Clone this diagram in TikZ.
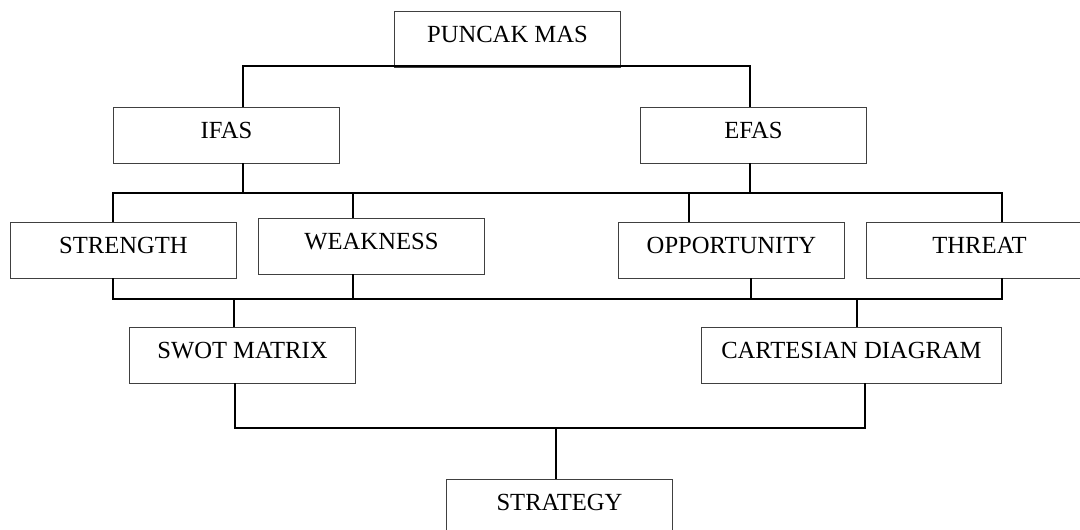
\documentclass[tikz,border=0pt]{standalone}
\usepackage{fontspec}
\setmainfont{Liberation Serif}

\tikzset{
  box/.style={draw=black!75, line width=0.6pt, anchor=north west, inner sep=0pt,
    minimum width=5.65cm, minimum height=1.39cm, text height=11.6pt, text depth=7pt,
    font=\fontsize{17.5}{20}\selectfont},
  wide/.style={minimum width=7.5cm},
  conn/.style={line width=1.2pt},
}

\begin{document}
\begin{tikzpicture}[x=0.025cm,y=-0.025cm]
    \useasboundingbox (0,0) rectangle (1080,530);
    % boxes
    \node[box] (puncak) at (394,11) {PUNCAK MAS};
    \node[box] (ifas) at (113,107) {IFAS};
    \node[box] (efas) at (640,107) {EFAS};
    \node[box] (strength) at (10,222) {STRENGTH};
    \node[box] (weakness) at (258,218) {WEAKNESS};
    \node[box] (opportunity) at (618,222) {OPPORTUNITY};
    \node[box] (threat) at (866,222) {THREAT};
    \node[box] (swot) at (129,327) {SWOT MATRIX};
    \node[box,wide] (cartesian) at (701,327) {CARTESIAN DIAGRAM};
    \node[box] (strategy) at (446,479) {STRATEGY};
    % junctions
    \coordinate (t1) at (243,66);
    \coordinate (t2) at (750,66);
    \coordinate (a1) at (113,193);
    \coordinate (a2) at (243,193);
    \coordinate (a3) at (353,193);
    \coordinate (a4) at (689,193);
    \coordinate (a5) at (750,193);
    \coordinate (a6) at (1002,193);
    \coordinate (b1) at (113,299);
    \coordinate (b2) at (234,299);
    \coordinate (b3) at (353,299);
    \coordinate (b4) at (751,299);
    \coordinate (b5) at (857,299);
    \coordinate (b6) at (1002,299);
    \coordinate (c1) at (235,428);
    \coordinate (c2) at (556,428);
    \coordinate (c3) at (865,428);
    % connectors
    \draw[conn] (t1 |- ifas.north) -- (t1) -- (t2) -- (t2 |- efas.north);
    \draw[conn] (a2 |- ifas.south) -- (a2);
    \draw[conn] (a5 |- efas.south) -- (a5);
    \draw[conn] (a1 |- strength.north) -- (a1) -- (a6) -- (a6 |- threat.north);
    \draw[conn] (a3) -- (a3 |- weakness.north);
    \draw[conn] (a4) -- (a4 |- opportunity.north);
    \draw[conn] (b1 |- strength.south) -- (b1) -- (b6) -- (b6 |- threat.south);
    \draw[conn] (b3 |- weakness.south) -- (b3);
    \draw[conn] (b4 |- opportunity.south) -- (b4);
    \draw[conn] (b2) -- (b2 |- swot.north);
    \draw[conn] (b5) -- (b5 |- cartesian.north);
    \draw[conn] (c1 |- swot.south) -- (c1) -- (c3) -- (c3 |- cartesian.south);
    \draw[conn] (c2) -- (c2 |- strategy.north);
\end{tikzpicture}
\end{document}
